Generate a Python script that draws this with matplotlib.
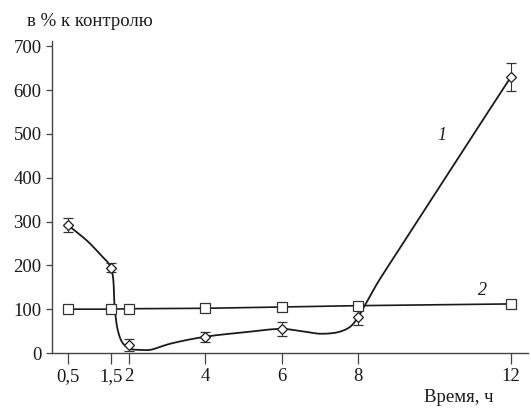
import numpy as np
import matplotlib.pyplot as plt
from matplotlib.ticker import FixedLocator, FixedFormatter

plt.rcParams['font.family'] = ['Liberation Serif', 'DejaVu Serif']

# Time points, h
hours = [0.5, 1.5, 2, 4, 6, 8, 12]
tick_labels = ['0,5', '1,5', '2', '4', '6', '8', '12']

# Series 1: measured values with errors (% of control)
s1_values = [292, 195, 18, 37, 55, 83, 630]
s1_errors = [15, 10, 14, 11, 16, 20, 31]

# Series 1: trend line drawn through the measurements
trend_hours = [0.5, 0.96, 1.25, 1.5, 1.61, 1.69, 1.81, 1.94, 2.05, 2.3, 2.55, 3.08,
               4, 5, 6, 6.5, 7.0, 7.5, 7.8, 8, 8.1, 8.25, 8.5, 9, 10, 11, 12]
trend_values = [292, 255, 225, 195, 99, 53, 25, 14, 9, 7, 7, 21,
                37, 47, 55, 50, 44, 48, 60, 81, 96, 119, 158, 226, 361, 496, 630]

# Series 2 (% of control)
s2_values = [100, 100, 101, 102, 105, 108, 112]

# uneven spacing of the time axis
axis_hours = [0.0, 0.5, 1.5, 2, 4, 6, 8, 12, 13]
axis_pos = [44, 68, 111, 129, 205, 282, 358, 511, 549]


def fwd(x):
    return np.interp(x, axis_hours, axis_pos)


def inv(u):
    return np.interp(u, axis_pos, axis_hours)


def smooth(xs, ys, n=16, alpha=0.5):
    # centripetal Catmull-Rom path through the trend points (in axis units)
    u = fwd(np.asarray(xs, float))
    v = np.asarray(ys, float) * 0.435
    P = np.column_stack([u, v])
    P = np.vstack([P[0] * 2 - P[1], P, P[-1] * 2 - P[-2]])
    out = []
    for i in range(1, len(P) - 2):
        p0, p1, p2, p3 = P[i - 1], P[i], P[i + 1], P[i + 2]
        t0 = 0.0
        t1 = t0 + np.linalg.norm(p1 - p0) ** alpha
        t2 = t1 + np.linalg.norm(p2 - p1) ** alpha
        t3 = t2 + np.linalg.norm(p3 - p2) ** alpha
        t = np.linspace(t1, t2, n, endpoint=False)[:, None]
        a1 = (t1 - t) / (t1 - t0) * p0 + (t - t0) / (t1 - t0) * p1
        a2 = (t2 - t) / (t2 - t1) * p1 + (t - t1) / (t2 - t1) * p2
        a3 = (t3 - t) / (t3 - t2) * p2 + (t - t2) / (t3 - t2) * p3
        b1 = (t2 - t) / (t2 - t0) * a1 + (t - t0) / (t2 - t0) * a2
        b2 = (t3 - t) / (t3 - t1) * a2 + (t - t1) / (t3 - t1) * a3
        out.append((t2 - t) / (t2 - t1) * b1 + (t - t1) / (t2 - t1) * b2)
    out.append(P[-2][None, :])
    out = np.vstack(out)
    return inv(out[:, 0]), out[:, 1] / 0.435


fig = plt.figure(figsize=(5.31, 4.08), dpi=100)
ax = fig.add_axes([52 / 531, 55 / 408, 476 / 531, 312 / 408])
ax.set_xscale('function', functions=(fwd, inv))

sx, sy = smooth(trend_hours, trend_values)
ax.plot(sx, sy, color='#1a1a1a', lw=1.3, zorder=2)
ax.errorbar(hours, s1_values, yerr=s1_errors, fmt='D', ms=5.5, mfc='white',
            mec='#1a1a1a', mew=0.9, ecolor='#333333', elinewidth=0.8,
            capsize=3.5, capthick=0.8, zorder=3)
ax.plot(hours, s2_values, color='#1a1a1a', lw=1.2, marker='s', ms=7.5,
        mfc='white', mec='#333333', mew=0.9, zorder=3)

ax.set_xlim(0.17, 12.45)
ax.set_ylim(0, 712)

ax.xaxis.set_major_locator(FixedLocator(hours))
ax.xaxis.set_major_formatter(FixedFormatter(tick_labels))
ax.xaxis.set_minor_locator(FixedLocator([]))
ax.set_yticks(range(0, 701, 100))

for side in ['top', 'right']:
    ax.spines[side].set_visible(False)
for side in ['left', 'bottom']:
    ax.spines[side].set_color('#444444')
    ax.spines[side].set_linewidth(1.0)

ax.tick_params(axis='y', direction='out', length=4.5, width=0.9,
               color='#444444', labelsize=13.5, pad=3, labelcolor='#1a1a1a')
ax.tick_params(axis='x', direction='out', length=8, width=0.9,
               color='#444444', labelsize=13.5, pad=3, labelcolor='#1a1a1a')

ax.text(10.2, 497, '1', fontsize=13, style='italic', color='#1a1a1a',
        ha='center', va='center')
ax.text(11.27, 142, '2', fontsize=13, style='italic', color='#1a1a1a',
        ha='center', va='center')

fig.text(27 / 531, 1 - 21 / 408, 'в % к контролю', fontsize=13.5,
         va='center', ha='left', color='#1a1a1a')
fig.text(493 / 531, 1 - 397 / 408, 'Время, ч', fontsize=13.5,
         va='center', ha='right', color='#1a1a1a')

fig.savefig('out.png', dpi=100)
